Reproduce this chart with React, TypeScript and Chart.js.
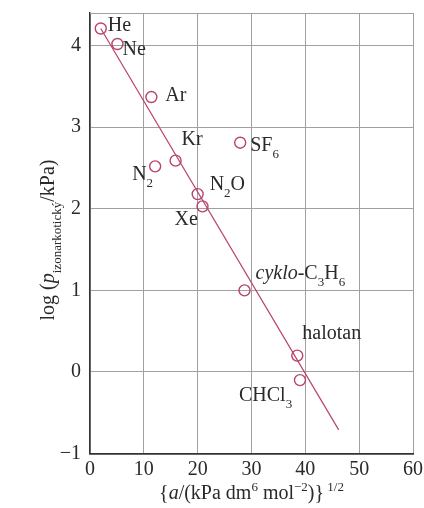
import React, { useEffect, useRef } from "react";
import { Chart, registerables } from "chart.js";

Chart.register(...registerables);

// ---- data ----
const substances = ["He", "Ne", "Ar", "N_2", "Kr", "N_2O", "Xe", "SF_6", "*cyklo*-C_3H_6", "halotan", "CHCl_3"];
const sqrtA = [2.0, 5.1, 11.4, 12.1, 15.9, 20.0, 20.9, 27.9, 28.7, 38.5, 39.0];
const logP = [4.21, 4.02, 3.37, 2.52, 2.59, 2.18, 2.03, 2.81, 1.0, 0.2, -0.1];
const fitX = [2.0, 46.2];
const fitY = [4.21, -0.71];
const xRange = [0, 60];
const yRange = [-1, 4.4];

// ---- label layout (pixel offsets from the point: left edge, baseline) ----
const labelOffsets = [
  [7, 3], [5, 11], [14, 4], [-23, 14], [6, -16], [12, -4],
  [-28, 19], [10, 8], [11, -11], [5, -17], [-61, 21],
];

const FAMILY = "'Liberation Serif', 'DejaVu Serif', serif";
const MARK = "#b8426e";
const TEXT = "#2a2a2a";

type Seg = { t: string; sub?: boolean; sup?: boolean; italic?: boolean };

function parse(s: string): Seg[] {
  const segs: Seg[] = [];
  let italic = false;
  for (let i = 0; i < s.length; i++) {
    const c = s[i];
    if (c === "*") { italic = !italic; continue; }
    if (c === "_") { segs.push({ t: s[++i], sub: true, italic }); continue; }
    const last = segs[segs.length - 1];
    if (last && !last.sub && !!last.italic === italic) last.t += c;
    else segs.push({ t: c, italic });
  }
  return segs;
}

function segFont(seg: Seg, size: number) {
  const sz = seg.sub || seg.sup ? Math.round(size * 0.65) : size;
  return `${seg.italic ? "italic " : ""}${sz}px ${FAMILY}`;
}

function measureRich(ctx: CanvasRenderingContext2D, segs: Seg[], size: number) {
  let w = 0;
  for (const s of segs) { ctx.font = segFont(s, size); w += ctx.measureText(s.t).width; }
  return w;
}

function drawRich(ctx: CanvasRenderingContext2D, segs: Seg[], x: number, y: number, size: number) {
  ctx.textAlign = "left";
  ctx.textBaseline = "alphabetic";
  for (const s of segs) {
    ctx.font = segFont(s, size);
    const dy = s.sub ? size * 0.35 : s.sup ? -size * 0.38 : 0;
    ctx.fillText(s.t, x, y + dy);
    x += ctx.measureText(s.t).width;
  }
}

const xTitle: Seg[] = [
  { t: "{" }, { t: "a", italic: true }, { t: "/(kPa dm" }, { t: "6", sup: true },
  { t: " mol" }, { t: "\u22122", sup: true }, { t: ")}" }, { t: " 1/2", sup: true },
];
const yTitle: Seg[] = [
  { t: "log (" }, { t: "p", italic: true }, { t: "izonarkotický", sub: true }, { t: "/kPa)" },
];

const annotate = {
  id: "annotate",
  beforeDatasetsDraw(chart: any) {
    const { ctx, chartArea } = chart;
    ctx.save();
    ctx.strokeStyle = "#a0a0a0";
    ctx.lineWidth = 1;
    ctx.beginPath();
    ctx.moveTo(chartArea.left, chartArea.top + 0.5);
    ctx.lineTo(chartArea.right, chartArea.top + 0.5);
    ctx.stroke();
    ctx.restore();
  },
  afterDatasetsDraw(chart: any) {
    const { ctx, scales } = chart;
    ctx.save();
    ctx.fillStyle = TEXT;
    substances.forEach((name, i) => {
      const px = scales.x.getPixelForValue(sqrtA[i]);
      const py = scales.y.getPixelForValue(logP[i]);
      const [dx, dy] = labelOffsets[i];
      drawRich(ctx, parse(name), px + dx, py + dy, 20);
    });
    // x title
    const wx = measureRich(ctx, xTitle, 20);
    const cx = (chart.chartArea.left + chart.chartArea.right) / 2;
    drawRich(ctx, xTitle, cx - wx / 2, 499, 20);
    // y title
    const wy = measureRich(ctx, yTitle, 20);
    ctx.translate(54, 240);
    ctx.rotate(-Math.PI / 2);
    drawRich(ctx, yTitle, -wy / 2, 0, 20);
    ctx.restore();
  },
};

export default function App() {
  const ref = useRef<HTMLCanvasElement>(null);
  useEffect(() => {
    if (!ref.current) return;
    const chart = new Chart(ref.current, {
      type: "scatter",
      data: {
        datasets: [
          {
            label: "points",
            data: sqrtA.map((x, i) => ({ x, y: logP[i] })),
            pointStyle: "circle",
            pointRadius: 5.5,
            pointBorderWidth: 1.4,
            pointBorderColor: MARK,
            pointBackgroundColor: "rgba(0,0,0,0)",
            order: 1,
          },
          {
            type: "line",
            label: "fit",
            data: fitX.map((x, i) => ({ x, y: fitY[i] })),
            borderColor: MARK,
            borderWidth: 1.2,
            pointRadius: 0,
            showLine: true,
            order: 2,
          } as any,
        ],
      },
      options: {
        animation: false,
        responsive: false,
        devicePixelRatio: 1,
        layout: { padding: { top: 13, right: 11, left: 0, bottom: 0 } },
        plugins: { legend: { display: false }, tooltip: { enabled: false } },
        scales: {
          x: {
            type: "linear",
            min: xRange[0],
            max: xRange[1],
            ticks: {
              stepSize: 10,
              padding: 4,
              color: TEXT,
              font: { family: FAMILY, size: 20 },
              maxRotation: 0,
            },
            grid: { color: "#a0a0a0", lineWidth: 1, drawTicks: false },
            border: { color: "#333", width: 1.8 },
            afterFit(scale: any) {
              scale.height = 54.5;
              scale.paddingLeft = 0;
              scale.paddingRight = 0;
            },
          },
          y: {
            type: "linear",
            min: yRange[0],
            max: yRange[1],
            ticks: {
              stepSize: 1,
              includeBounds: false,
              padding: 9,
              color: TEXT,
              font: { family: FAMILY, size: 20 },
              callback: (v: any) => (Number(v) < 0 ? "\u2212" + Math.abs(Number(v)) : String(v)),
            },
            grid: { color: "#a0a0a0", lineWidth: 1, drawTicks: false },
            border: { color: "#333", width: 1.5 },
            afterFit(scale: any) {
              scale.width = 90;
              scale.paddingTop = 0;
              scale.paddingBottom = 0;
            },
          },
        },
      },
      plugins: [annotate],
    } as any);
    return () => chart.destroy();
  }, []);
  return (
    <div style={{ position: "absolute", left: 0, top: 0, width: 424, height: 508, background: "#fff" }}>
      <canvas ref={ref} width={424} height={508} />
    </div>
  );
}
